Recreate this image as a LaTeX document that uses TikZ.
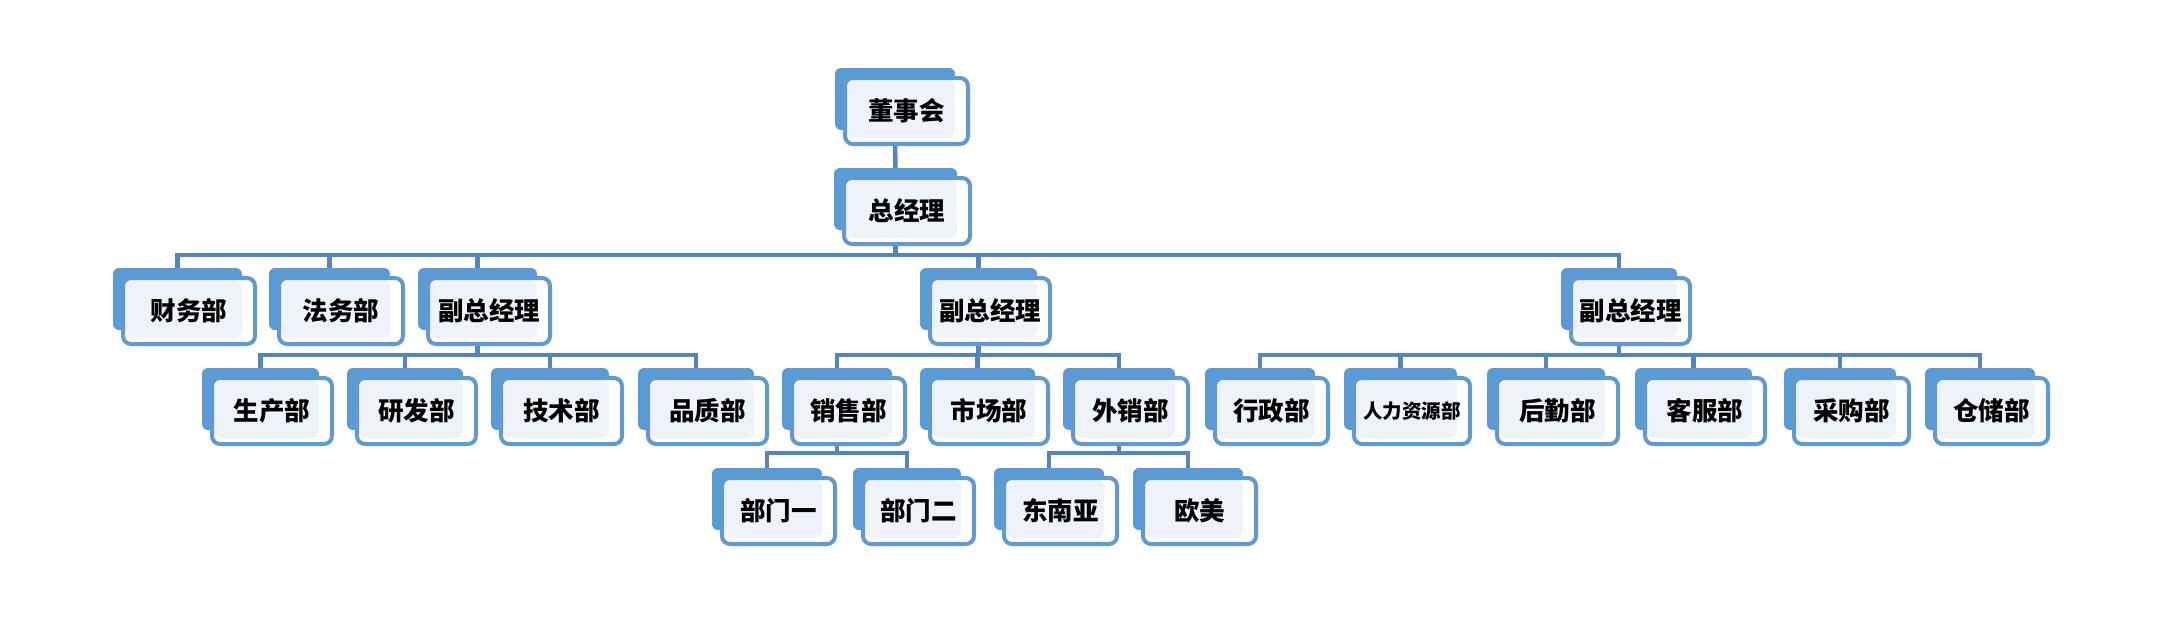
\documentclass[tikz,border=0pt]{standalone}
\usepackage{fontspec}
\setmainfont{Noto Sans CJK SC}
\pgfdeclarelayer{bg}
\pgfsetlayers{bg,main}
\definecolor{backc}{RGB}{91,155,213}
\definecolor{framec}{RGB}{98,154,208}
\definecolor{linec}{RGB}{86,133,190}
\definecolor{lightc}{RGB}{238,243,249}
\tikzset{
  backbox/.style={fill=backc, rounded corners=6pt, minimum height=62pt, inner sep=0pt, outer sep=0pt},
  frontbox/.style={draw=framec, fill=white, line width=4pt, rounded corners=8pt,
    minimum height=66pt, inner sep=0pt, outer sep=0pt,
    font=\fontsize{25.5pt}{29pt}\selectfont\bfseries,
    path picture={\fill[lightc] ([shift={(2,2)}]path picture bounding box.north west)
      rectangle ([shift={(-13,-6)}]path picture bounding box.south east);}},
  conn/.style={draw=linec, line width=4.5pt, line join=miter}
}
\newcommand\mkbox[6]{%
  \node[backbox, minimum width=#3pt-#2pt, anchor=north west] (#1-b) at (#2,#4) {};
  \node[frontbox, minimum width=#3pt-#2pt+3pt, anchor=north west, #6] (#1) at (#2+10,#4+10) {#5};
}
\begin{document}
\begin{tikzpicture}[x=1pt,y=-1pt]
\useasboundingbox (0,0) rectangle (2168,619);
% level 1
\mkbox{dsh}{835}{955}{68}{董事会}{}
\mkbox{zjl}{834}{957}{168}{总经理}{}
% level 2
\mkbox{cw}{113}{242}{268}{财务部}{}
\mkbox{fw}{269}{390}{268}{法务部}{}
\mkbox{fzL}{418}{537}{268}{副总经理}{}
\mkbox{fzM}{920}{1037}{268}{副总经理}{}
\mkbox{fzR}{1561}{1677}{268}{副总经理}{}
% level 3
\mkbox{sc}{202}{319}{368}{生产部}{}
\mkbox{yf}{347}{463}{368}{研发部}{}
\mkbox{js}{491}{609}{368}{技术部}{}
\mkbox{pz}{638}{754}{368}{品质部}{}
\mkbox{xs}{782}{892}{368}{销售部}{}
\mkbox{scb}{920}{1035}{368}{市场部}{}
\mkbox{wx}{1063}{1175}{368}{外销部}{}
\mkbox{xz}{1205}{1315}{368}{行政部}{}
\mkbox{rl}{1344}{1457}{368}{人力资源部}{font=\fontsize{19.5pt}{22pt}\selectfont\bfseries}
\mkbox{hq}{1487}{1605}{368}{后勤部}{}
\mkbox{kf}{1635}{1752}{368}{客服部}{}
\mkbox{cg}{1784}{1896}{368}{采购部}{}
\mkbox{cc}{1925}{2035}{368}{仓储部}{}
% level 4
\mkbox{bma}{712}{822}{468}{部门一}{}
\mkbox{bmb}{853}{961}{468}{部门二}{}
\mkbox{dny}{994}{1104}{468}{东南亚}{}
\mkbox{om}{1133}{1243}{468}{欧美}{}
\coordinate (busA) at (0,255);
\coordinate (busB) at (0,355);
\coordinate (busE) at (0,453);
\begin{pgfonlayer}{bg}
\draw[conn] (dsh-b |- dsh.south) -- (zjl-b.north);
% general manager bus
\draw[conn] (cw-b.north) |- (fzR-b |- busA) -- (fzR-b.north);
\foreach \n in {fw,fzL,fzM} \draw[conn] (\n-b.north) -- (\n-b |- busA);
\draw[conn] (zjl-b |- zjl.south) -- (zjl-b |- busA);
% left deputy
\draw[conn] (sc-b.north) |- (pz-b |- busB) -- (pz-b.north);
\foreach \n in {yf,js} \draw[conn] (\n-b.north) -- (\n-b |- busB);
\draw[conn] (fzL-b |- fzL.south) -- (fzL-b |- busB);
% middle deputy
\draw[conn] (xs-b.north) |- (wx-b |- busB) -- (wx-b.north);
\draw[conn] (scb-b.north) -- (scb-b |- busB);
\draw[conn] (fzM-b |- fzM.south) -- (fzM-b |- busB);
% right deputy
\draw[conn] (xz-b.north) |- (cc-b |- busB) -- (cc-b.north);
\foreach \n in {rl,hq,kf,cg} \draw[conn] (\n-b.north) -- (\n-b |- busB);
\draw[conn] (fzR-b |- fzR.south) -- (fzR-b |- busB);
% sales
\draw[conn] (bma-b.north) |- (bmb-b |- busE) -- (bmb-b.north);
\draw[conn] (xs-b |- xs.south) -- (xs-b |- busE);
% export
\draw[conn] (dny-b.north) |- (om-b |- busE) -- (om-b.north);
\draw[conn] (wx-b |- wx.south) -- (wx-b |- busE);
\end{pgfonlayer}
\end{tikzpicture}
\end{document}
